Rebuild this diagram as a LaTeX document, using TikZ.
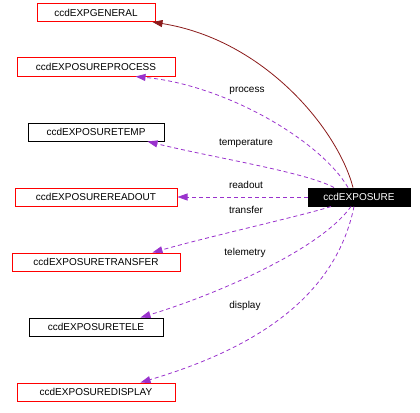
\documentclass[tikz,border=0pt]{standalone}
\usepackage{fontspec}
\setmainfont{Liberation Sans}
\usetikzlibrary{arrows.meta,positioning}
\definecolor{usecol}{HTML}{9A32CD}
\definecolor{inhcol}{HTML}{8B1A1A}
\tikzset{
  cls/.style={draw, line width=1pt, font=\fontsize{10}{12}\selectfont,
              minimum height=18pt, inner sep=0pt},
  redcls/.style={cls, draw=red},
  blkcls/.style={cls, draw=black},
  curcls/.style={cls, fill=black, text=white},
  use/.style={usecol, line width=0.8pt, dash pattern=on 4pt off 3pt,
              -{Triangle[length=10pt,width=7pt]}},
  inh/.style={inhcol, line width=0.8pt, -{Triangle[length=10pt,width=7pt]}},
  lbl/.style={font=\fontsize{10}{12}\selectfont, inner sep=1pt},
}
\begin{document}
\begin{tikzpicture}[x=1pt,y=-1pt]
  \useasboundingbox (0,0) rectangle (420,412);
  % left column
  \node[redcls,minimum width=118pt] (gen) at (96,12.5) {ccdEXPGENERAL};
  \node[redcls,minimum width=158pt,below=35.5pt of gen] (proc) {ccdEXPOSUREPROCESS};
  \node[blkcls,minimum width=136pt,below=46pt of proc] (temp) {ccdEXPOSURETEMP};
  \node[redcls,minimum width=162pt,below=46pt of temp] (rdout) {ccdEXPOSUREREADOUT};
  \node[redcls,minimum width=168pt,below=46pt of rdout] (xfer) {ccdEXPOSURETRANSFER};
  \node[blkcls,minimum width=134pt,below=46pt of xfer] (tele) {ccdEXPOSURETELE};
  \node[redcls,minimum width=158pt,below=46pt of tele] (disp) {ccdEXPOSUREDISPLAY};
  % the class itself
  \node[curcls,minimum width=102pt,right=130pt of rdout] (exp) {ccdEXPOSURE};

  \draw[inh] ([xshift=-6pt]exp.north) .. controls (338,130) and (265,40)
    .. ([xshift=-3pt]gen.south east);
  \draw[use] ([xshift=-11pt]exp.north) .. controls (320,140) and (225,85)
    .. ([xshift=-40pt]proc.south east);
  \draw[use] ([xshift=-25pt]exp.north) .. controls (305,172) and (215,158)
    .. ([xshift=-17pt]temp.south east);
  \draw[use] (exp.west) -- (rdout.east);
  \draw[use] ([xshift=-28pt]exp.south) .. controls (305,215) and (215,235)
    .. ([xshift=-28pt]xfer.north east);
  \draw[use] ([xshift=-8pt]exp.south) .. controls (320,250) and (215,295)
    .. ([xshift=-23pt]tele.north east);
  \draw[use] ([xshift=-5pt]exp.south) .. controls (335,300) and (250,350)
    .. ([xshift=-35pt]disp.north east);

  \node[lbl] (lproc) at (247,91) {process};
  \node[lbl] (ltemp) at (246,143) {temperature};
  \node[lbl] (lrd) at (246,185) {readout};
  \node[lbl] (lxf) at (246,210) {transfer};
  \node[lbl] (ltel) at (245,253) {telemetry};
  \node[lbl] (ldisp) at (245,306) {display};
\end{tikzpicture}
\end{document}
